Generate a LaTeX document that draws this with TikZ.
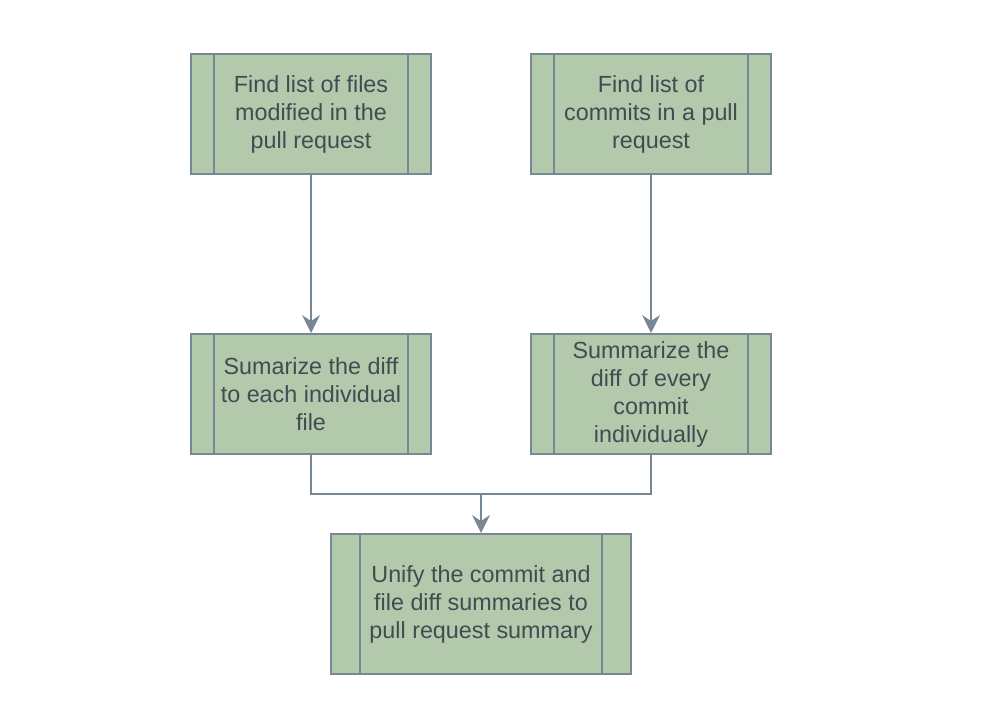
\documentclass[tikz,border=0pt]{standalone}
\usepackage{fontspec}
\setmainfont{Liberation Sans}
\usetikzlibrary{arrows.meta}
\definecolor{boxfill}{HTML}{B2C9AB}
\definecolor{boxline}{HTML}{788794}
\definecolor{txt}{HTML}{434B52}
\tikzset{
  procbox/.style={draw=boxline, fill=boxfill, line width=1.5pt, inner sep=0pt,
    minimum width=180pt, minimum height=90pt, align=center, text=txt,
    font=\fontsize{17.5}{21}\selectfont},
  bigbox/.style={procbox, minimum width=225pt, minimum height=105pt},
  conn/.style={draw=boxline, line width=1.5pt},
  arr/.style={conn, -{Stealth[length=13.5pt, width=13.5pt, inset=4.5pt, line width=0pt, fill=boxline]}},
  side/.style={draw=boxline, line width=1.5pt}
}
\begin{document}
\begin{tikzpicture}[x=0.75pt, y=-0.75pt]
\useasboundingbox (0,0) rectangle (1006,700);
\node[procbox] (b1) at (311,114) {Find list of files\\modified in the\\pull request};
\node[procbox] (b2) at (651,114) {Find list of\\commits in a pull\\request};
\node[procbox] (b3) at (311,394) {Sumarize the diff\\to each individual\\file};
\node[procbox] (b4) at (651,394) {Summarize the\\diff of every\\commit\\individually};
\node[bigbox] (b5) at (481,604) {Unify the commit and\\file diff summaries to\\pull request summary};
\foreach \n in {b1,b2,b3,b4}{
  \draw[side] ([xshift=18pt]\n.north west) -- ([xshift=18pt]\n.south west);
  \draw[side] ([xshift=-18pt]\n.north east) -- ([xshift=-18pt]\n.south east);
}
\draw[side] ([xshift=22.5pt]b5.north west) -- ([xshift=22.5pt]b5.south west);
\draw[side] ([xshift=-22.5pt]b5.north east) -- ([xshift=-22.5pt]b5.south east);
\coordinate (m) at (481,494);
\draw[arr] (b1.south) -- (b3.north);
\draw[arr] (b2.south) -- (b4.north);
\draw[conn] (b3.south) |- (m) -| (b4.south);
\draw[arr] (m) -- (b5.north);
\end{tikzpicture}
\end{document}
